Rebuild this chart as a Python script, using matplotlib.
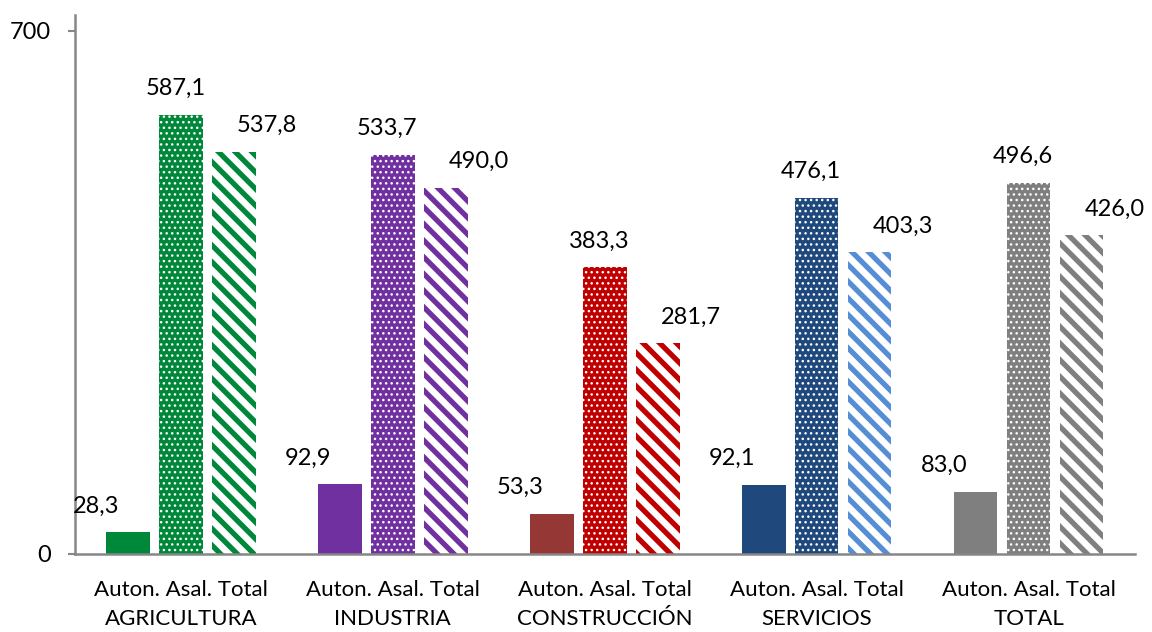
import numpy as np
import matplotlib
matplotlib.use('Agg')
import matplotlib.pyplot as plt

plt.rcParams['font.family'] = ['Lato', 'DejaVu Sans']
plt.rcParams['hatch.linewidth'] = 3.8

categories = ['AGRICULTURA', 'INDUSTRIA', 'CONSTRUCCIÓN', 'SERVICIOS', 'TOTAL']
subLabel = 'Auton. Asal. Total'

auton = [28.3, 92.9, 53.3, 92.1, 83.0]
asal = [587.1, 533.7, 383.3, 476.1, 496.6]
total = [537.8, 490.0, 281.7, 403.3, 426.0]

autonColors = ['#00883A', '#7030A0', '#953735', '#1F497D', '#7F7F7F']
asalColors = ['#00883A', '#7030A0', '#C00000', '#1F497D', '#7F7F7F']
totalColors = ['#00883A', '#7030A0', '#C00000', '#558ED5', '#7F7F7F']


def fmt(v):
    return '{:.1f}'.format(v).replace('.', ',')


def main():
    fig = plt.figure(figsize=(11.52, 6.32), dpi=100)
    ax = fig.add_axes([0.065, 0.124, 0.92, 0.852])

    x = np.arange(len(categories))
    w = 0.205
    off = 0.25

    for i in range(len(categories)):
        ax.bar(x[i] - off, auton[i], w, color=autonColors[i], linewidth=0)
        b = ax.bar(x[i], asal[i], w, facecolor=asalColors[i], edgecolor='white',
                   linewidth=0, hatch='...')
        for p in b:
            if hasattr(p, 'set_hatch_linewidth'):
                p.set_hatch_linewidth(1.0)
        b = ax.bar(x[i] + off, total[i], w, facecolor='white', edgecolor=totalColors[i],
                   linewidth=0, hatch='\\\\')
        for p in b:
            if hasattr(p, 'set_hatch_linewidth'):
                p.set_hatch_linewidth(3.8)

        ax.annotate(fmt(auton[i]), (x[i] - off, auton[i]), xytext=(-23, 19),
                    textcoords='offset points', ha='center', va='center', fontsize=17)
        ax.annotate(fmt(asal[i]), (x[i], asal[i]), xytext=(-4, 19),
                    textcoords='offset points', ha='center', va='center', fontsize=17)
        ax.annotate(fmt(total[i]), (x[i] + off, total[i]), xytext=(24, 19),
                    textcoords='offset points', ha='center', va='center', fontsize=17)

    ax.set_xlim(-0.5, len(categories) - 0.5)
    ax.set_ylim(0, 721)
    ax.set_yticks([0, 700])
    ax.set_yticklabels(['0', '700'], fontsize=17)
    ax.set_xticks(x)
    ax.set_xticklabels([subLabel + '\n' + c for c in categories], fontsize=16,
                       linespacing=1.55)
    ax.tick_params(axis='x', length=0, pad=19)
    ax.tick_params(axis='y', length=5, width=1.5, color='#868686', pad=12)

    for s in ['top', 'right']:
        ax.spines[s].set_visible(False)
    for s in ['left', 'bottom']:
        ax.spines[s].set_color('#868686')
        ax.spines[s].set_linewidth(1.8)

    plt.savefig('out.png', dpi=100)
    plt.close()


if __name__ == '__main__':
    main()
